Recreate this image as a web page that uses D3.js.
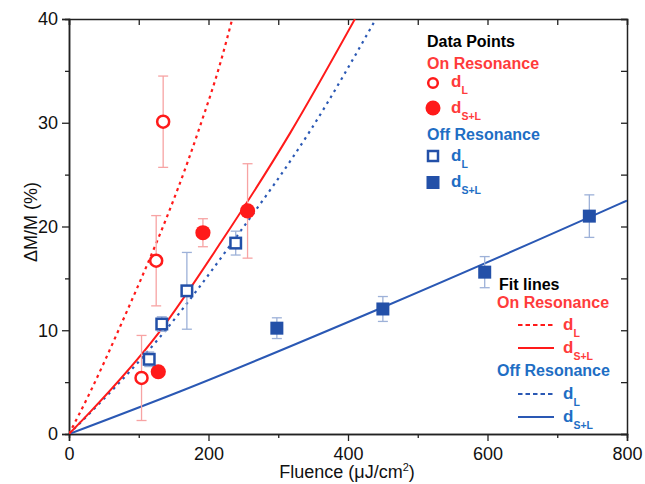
<!DOCTYPE html>
<html>
<head>
<meta charset="utf-8">
<script src="https://cdn.jsdelivr.net/npm/d3@7"></script>
<style>
  html, body { margin: 0; padding: 0; background: #fff; }
  svg { display: block; }
  text { font-family: "Liberation Sans", Arial, sans-serif; }
</style>
</head>
<body>
<svg id="chart" width="645" height="484"></svg>
<script>
// ---------- data ----------
const onL_fluence   = [104, 125, 135];
const onL_value     = [5.4, 16.7, 30.1];
const onL_err       = [4.1, 4.35, 4.4];

const onSL_fluence  = [128, 192, 256];
const onSL_value    = [6.0, 19.4, 21.5];
const onSL_err      = [0.5, 1.35, 4.55];

const offL_fluence  = [115, 133, 169, 239];
const offL_value    = [7.2, 10.6, 13.8, 18.4];
const offL_err      = [0.7, 0.7, 3.7, 1.15];

const offSL_fluence = [298, 450, 596, 746];
const offSL_value   = [10.2, 12.05, 15.6, 21.0];
const offSL_err     = [1.0, 1.2, 1.5, 2.05];

// fit lines: [fluence, value] points
const fitOnL   = [[0, 0], [31.5, 4.2], [69, 9.7], [185, 29.1], [218, 36.0], [234, 40]];
const fitOnSL  = [[0, 0], [31.5, 2.2], [128, 9.7], [218, 18.5], [317, 29.0], [410, 40]];
const fitOffL  = [[0, 0], [130.5, 9.35], [241, 19.1], [345.5, 29.2], [440, 40]];
const fitOffSL = [[0, 0], [159, 4.1], [446, 12.1], [790, 22.2], [800, 22.5]];

const xTicks = [0, 200, 400, 600, 800];
const xMinor = [100, 300, 500, 700];
const yTicks = [0, 10, 20, 30, 40];
const yMinor = [5, 15, 25, 35];

// ---------- styles ----------
const RED = "#ff1a1a", RED_TXT = "#ff3b3b", RED_ERR = "#f7a3a3";
const BLUE = "#2350a8", BLUE_TXT = "#1e6ec4", BLUE_ERR = "#9db1d8", BLUE_LINE = "#2a58b4";

const svg = d3.select("#chart");
const X0 = 69, X1 = 627, Y0 = 434, Y1 = 19;
const x = d3.scaleLinear().domain([0, 800]).range([X0, X1]);
const y = d3.scaleLinear().domain([0, 40]).range([Y0, Y1]);

svg.append("defs").append("clipPath").attr("id", "clip")
  .append("rect").attr("x", X0).attr("y", Y1).attr("width", X1 - X0).attr("height", Y0 - Y1);

// ---------- axes ----------
const axW = 1.5;
svg.append("g").attr("transform", `translate(0,${Y0})`)
  .call(d3.axisBottom(x).tickValues(xTicks).tickSize(7).tickPadding(6).tickFormat(d3.format("d")));
svg.append("g").attr("transform", `translate(0,${Y0})`)
  .call(d3.axisBottom(x).tickValues(xMinor).tickSize(4).tickFormat(""));
svg.append("g").attr("transform", `translate(${X0},0)`)
  .call(d3.axisLeft(y).tickValues(yTicks).tickSize(7).tickPadding(4).tickFormat(d3.format("d")));
svg.append("g").attr("transform", `translate(${X0},0)`)
  .call(d3.axisLeft(y).tickValues(yMinor).tickSize(4).tickFormat(""));
// top & right mirrored, ticks inward
svg.append("g").attr("transform", `translate(0,${Y1})`)
  .call(d3.axisBottom(x).tickValues(xTicks.concat(xMinor)).tickSize(6).tickFormat(""));
svg.append("g").attr("transform", `translate(${X1},0)`)
  .call(d3.axisLeft(y).tickValues(yTicks.concat(yMinor)).tickSize(6).tickFormat(""));

svg.selectAll(".domain").attr("stroke", "#222").attr("stroke-width", axW);
svg.selectAll(".tick line").attr("stroke", "#222").attr("stroke-width", 1.3);
svg.selectAll(".tick text").attr("font-size", 18).attr("fill", "#111")
  .attr("font-family", "Liberation Sans, Arial, sans-serif");

// axis titles
const xt = svg.append("text").attr("x", (X0 + X1) / 2 - 1).attr("y", 478).attr("text-anchor", "middle")
  .attr("font-size", 18).attr("fill", "#111");
xt.append("tspan").text("Fluence (μJ/cm");
xt.append("tspan").text("2").attr("font-size", 11).attr("dy", -7);
xt.append("tspan").text(")").attr("dy", 7);

svg.append("text").attr("transform", `translate(37,222) rotate(-90)`)
  .attr("text-anchor", "middle").attr("font-size", 18).attr("fill", "#111").text("ΔM/M (%)");

// ---------- fit lines ----------
const line = d3.line().x(d => x(d[0])).y(d => y(d[1])).curve(d3.curveMonotoneX);
const fits = svg.append("g").attr("clip-path", "url(#clip)");
fits.append("path").datum(fitOffSL).attr("d", line).attr("fill", "none").attr("stroke", BLUE_LINE).attr("stroke-width", 2);
fits.append("path").datum(fitOffL).attr("d", line).attr("fill", "none").attr("stroke", BLUE_LINE).attr("stroke-width", 2.2).attr("stroke-dasharray", "2.5,4.5");
fits.append("path").datum(fitOnSL).attr("d", line).attr("fill", "none").attr("stroke", RED).attr("stroke-width", 2);
fits.append("path").datum(fitOnL).attr("d", line).attr("fill", "none").attr("stroke", RED).attr("stroke-width", 2.2).attr("stroke-dasharray", "3,4");

// ---------- error bars ----------
function errBars(fl, val, err, color) {
  const g = svg.append("g").attr("stroke", color).attr("stroke-width", 1.3);
  fl.forEach((f, i) => {
    const cx = x(f), top = y(val[i] + err[i]), bot = y(val[i] - err[i]);
    g.append("line").attr("x1", cx).attr("x2", cx).attr("y1", top).attr("y2", bot);
    g.append("line").attr("x1", cx - 5).attr("x2", cx + 5).attr("y1", top).attr("y2", top);
    g.append("line").attr("x1", cx - 5).attr("x2", cx + 5).attr("y1", bot).attr("y2", bot);
  });
}
errBars(onL_fluence, onL_value, onL_err, RED_ERR);
errBars(onSL_fluence, onSL_value, onSL_err, RED_ERR);
errBars(offL_fluence, offL_value, offL_err, BLUE_ERR);
errBars(offSL_fluence, offSL_value, offSL_err, BLUE_ERR);

// ---------- markers ----------
function circles(fl, val, filled) {
  fl.forEach((f, i) => {
    svg.append("circle").attr("cx", x(f)).attr("cy", y(val[i]))
      .attr("r", filled ? 7.6 : 6)
      .attr("fill", filled ? RED : "#fff")
      .attr("stroke", filled ? "none" : RED).attr("stroke-width", 2.5);
  });
}
function squares(fl, val, filled) {
  fl.forEach((f, i) => {
    const s = filled ? 13 : 10.5;
    svg.append("rect").attr("x", x(f) - s / 2).attr("y", y(val[i]) - s / 2)
      .attr("width", s).attr("height", s)
      .attr("fill", filled ? BLUE : "#fff")
      .attr("stroke", filled ? "none" : BLUE).attr("stroke-width", 2.5);
  });
}
circles(onL_fluence, onL_value, false);
circles(onSL_fluence, onSL_value, true);
squares(offL_fluence, offL_value, false);
squares(offSL_fluence, offSL_value, true);

// ---------- legends ----------
function dLabel(xp, yb, sub, color) {
  const t = svg.append("text").attr("x", xp).attr("y", yb).attr("fill", color).attr("font-weight", "bold");
  t.append("tspan").text("d").attr("font-size", 17);
  t.append("tspan").text(sub).attr("font-size", 10.5).attr("dy", 7);
}
function head(xp, yb, txt, color) {
  svg.append("text").attr("x", xp).attr("y", yb).attr("fill", color)
    .attr("font-weight", "bold").attr("font-size", 16).text(txt);
}

// Data Points legend
head(427, 47, "Data Points", "#000");
head(427, 69, "On Resonance", RED_TXT);
svg.append("circle").attr("cx", 433).attr("cy", 83).attr("r", 4.8).attr("fill", "#fff").attr("stroke", RED).attr("stroke-width", 2.5);
dLabel(451, 87, "L", RED_TXT);
svg.append("circle").attr("cx", 433).attr("cy", 108).attr("r", 7.5).attr("fill", RED);
dLabel(451, 113, "S+L", RED_TXT);
head(427, 140, "Off Resonance", BLUE_TXT);
svg.append("rect").attr("x", 433 - 5).attr("y", 156 - 5).attr("width", 10).attr("height", 10).attr("fill", "#fff").attr("stroke", BLUE).attr("stroke-width", 2.5);
dLabel(451, 161, "L", BLUE_TXT);
svg.append("rect").attr("x", 433 - 6.5).attr("y", 182.5 - 6.5).attr("width", 13).attr("height", 13).attr("fill", BLUE);
dLabel(451, 187, "S+L", BLUE_TXT);

// Fit lines legend
head(499, 290, "Fit lines", "#000");
head(497, 308, "On Resonance", RED_TXT);
svg.append("line").attr("x1", 518).attr("x2", 554).attr("y1", 325).attr("y2", 325).attr("stroke", RED).attr("stroke-width", 2).attr("stroke-dasharray", "4.5,3");
dLabel(563, 330, "L", RED_TXT);
svg.append("line").attr("x1", 518).attr("x2", 554).attr("y1", 348).attr("y2", 348).attr("stroke", RED).attr("stroke-width", 2);
dLabel(563, 353, "S+L", RED_TXT);
head(497, 376, "Off Resonance", BLUE_TXT);
svg.append("line").attr("x1", 518).attr("x2", 554).attr("y1", 394).attr("y2", 394).attr("stroke", BLUE_LINE).attr("stroke-width", 2).attr("stroke-dasharray", "4.5,3");
dLabel(563, 399, "L", BLUE_TXT);
svg.append("line").attr("x1", 518).attr("x2", 554).attr("y1", 417).attr("y2", 417).attr("stroke", BLUE_LINE).attr("stroke-width", 2);
dLabel(563, 422, "S+L", BLUE_TXT);
</script>
</body>
</html>
